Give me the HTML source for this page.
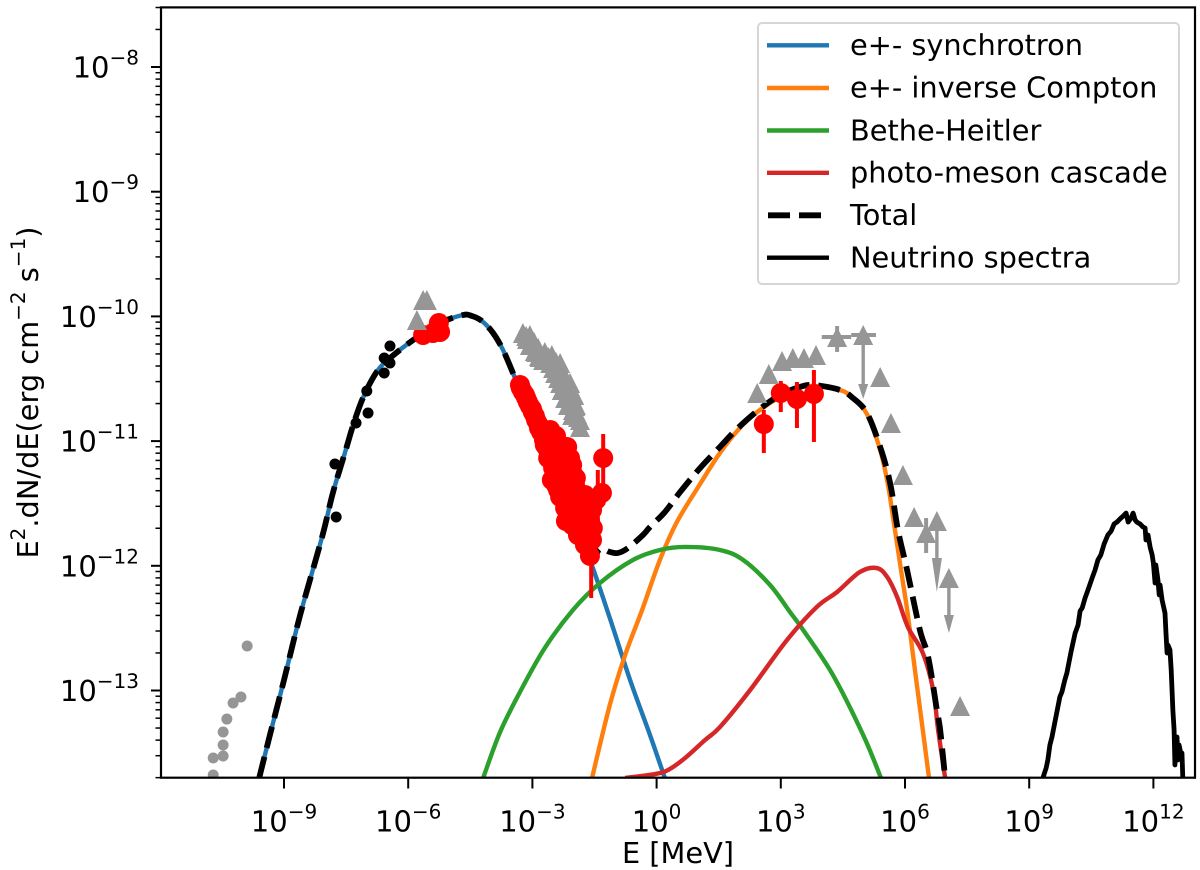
<!DOCTYPE html>
<html lang="en">
<head>
<meta charset="utf-8">
<title>Broadband spectrum</title>
<style>
html,body{margin:0;padding:0;background:#fff;width:1200px;height:870px;overflow:hidden}
svg{display:block}
text{font-family:"DejaVu Sans","Liberation Sans",sans-serif;fill:#000;text-rendering:geometricPrecision}
</style>
</head>
<body>
<svg id="chart" xmlns="http://www.w3.org/2000/svg" width="1200" height="870" viewBox="0 0 1200 870">
  <rect x="0" y="0" width="1200" height="870" fill="#fff"/>
  <defs><clipPath id="plot-clip"><rect x="161" y="7.4" width="1034" height="770.3"/></clipPath></defs>
  <g id="marks" clip-path="url(#plot-clip)"></g>
  <g id="ticks"></g>
  <rect x="161" y="7.4" width="1034" height="770.3" fill="none" stroke="#000" stroke-width="2.2"/>
  <text x="678" y="863" font-size="28.8" text-anchor="middle">E [MeV]</text>
  <text transform="translate(38,392.5) rotate(-90)" font-size="28.8" text-anchor="middle">E<tspan font-size="20" dy="-13">2</tspan><tspan dy="13">.dN/dE(erg cm</tspan><tspan font-size="20" dy="-13">−2</tspan><tspan dy="13"> s</tspan><tspan font-size="20" dy="-13">−1</tspan><tspan dy="13">)</tspan></text>
  <g>
    <rect x="758" y="23" width="421" height="261" rx="4" ry="4" fill="#fff" fill-opacity="0.8" stroke="#d6d6d6" stroke-width="2"/>
    <line x1="767" x2="829" y1="45.3" y2="45.3" stroke="#1f77b4" stroke-width="4.4"/>
    <text x="850" y="55" font-size="28.8">e+- synchrotron</text>
    <line x1="767" x2="829" y1="88" y2="88" stroke="#ff7f0e" stroke-width="4.4"/>
    <text x="850" y="97.7" font-size="28.8">e+- inverse Compton</text>
    <line x1="767" x2="829" y1="130.5" y2="130.5" stroke="#2ca02c" stroke-width="4.4"/>
    <text x="850" y="140.7" font-size="28.8">Bethe-Heitler</text>
    <line x1="767" x2="829" y1="172.8" y2="172.8" stroke="#d62728" stroke-width="4.4"/>
    <text x="850" y="182.7" font-size="28.8">photo-meson cascade</text>
    <line x1="768" x2="829" y1="215.3" y2="215.3" stroke="#000" stroke-width="5.8" stroke-dasharray="22 9"/>
    <text x="850" y="225" font-size="28.8">Total</text>
    <line x1="767" x2="829" y1="257.7" y2="257.7" stroke="#000" stroke-width="4.4"/>
    <text x="850" y="267.7" font-size="28.8">Neutrino spectra</text>
  </g>
</svg>
<script>
// All values are log10(E / MeV) and log10(E^2 dN/dE / erg cm-2 s-1)
const xTickExps = [-9,-6,-3,0,3,6,9,12];
const yTickExps = [-8,-9,-10,-11,-12,-13];

const synchE = [-9.60,-9.34,-9.00,-8.61,-8.08,-7.82,-7.53,-7.29,-7.04,-6.73,-6.44,-5.88,-5.23,-4.68,-4.46,-4.22,-3.95,-3.71,-3.47,-3.18,-2.82,-2.33,-1.97,-1.61,-1.13,-0.64,-0.16,0.20];
const synchF = [-13.702,-13.357,-12.916,-12.395,-11.769,-11.416,-11.095,-10.831,-10.614,-10.430,-10.334,-10.189,-10.053,-9.989,-9.997,-10.037,-10.133,-10.269,-10.454,-10.694,-10.991,-11.376,-11.673,-11.953,-12.419,-12.916,-13.357,-13.702];

const icE = [-1.56,-1.13,-0.76,-0.35,0.08,0.49,1.05,1.53,2.01,2.43,2.98,3.46,3.78,4.43,4.74,5.08,5.40,5.59,5.71,5.93,6.07,6.24,6.43,6.58];
const icF = [-13.702,-13.116,-12.715,-12.354,-11.953,-11.649,-11.344,-11.095,-10.895,-10.767,-10.646,-10.574,-10.558,-10.590,-10.654,-10.783,-11.071,-11.352,-11.609,-12.090,-12.395,-12.836,-13.317,-13.702];

const bhE = [-4.19,-3.78,-3.30,-2.70,-2.02,-1.37,-0.57,0.08,0.69,1.53,2.09,2.74,3.22,3.54,4.26,4.99,5.42];
const bhF = [-13.702,-13.333,-13.012,-12.659,-12.354,-12.138,-11.953,-11.873,-11.849,-11.873,-11.953,-12.154,-12.370,-12.515,-12.876,-13.357,-13.702];

const pmE = [-0.76,-0.04,0.28,0.69,1.17,1.53,2.26,3.15,3.87,4.36,4.91,5.32,5.57,5.81,6.07,6.43,6.68,6.80,6.97];
const pmF = [-13.702,-13.670,-13.637,-13.541,-13.397,-13.293,-12.996,-12.595,-12.330,-12.210,-12.050,-12.018,-12.090,-12.250,-12.491,-12.699,-12.996,-13.317,-13.702];

const totalE = [-9.60,-9.34,-9.00,-8.61,-8.08,-7.82,-7.53,-7.29,-7.04,-6.73,-6.44,-5.88,-5.23,-4.68,-4.46,-4.22,-3.95,-3.71,-3.47,-3.18,-2.82,-2.33,-1.97,-1.61,-1.37,-1.13,-0.93,-0.69,-0.33,-0.16,0.20,0.57,1.05,1.53,1.94,2.43,2.98,3.46,3.78,4.43,4.74,5.08,5.40,5.64,5.83,6.05,6.36,6.56,6.77,6.85,6.97];
const totalF = [-13.702,-13.357,-12.916,-12.395,-11.769,-11.416,-11.095,-10.831,-10.614,-10.430,-10.334,-10.189,-10.053,-9.989,-9.997,-10.037,-10.133,-10.269,-10.454,-10.694,-10.991,-11.376,-11.673,-11.953,-11.865,-11.889,-11.897,-11.857,-11.753,-11.689,-11.569,-11.408,-11.216,-11.047,-10.903,-10.759,-10.630,-10.566,-10.550,-10.590,-10.654,-10.775,-11.047,-11.336,-11.713,-12.034,-12.515,-12.731,-13.156,-13.317,-13.702];

const nuE = [9.33,9.41,9.45,9.50,9.55,9.65,9.74,9.79,9.86,9.91,10.01,10.11,10.18,10.23,10.28,10.35,10.42,10.52,10.59,10.66,10.73,10.81,10.90,10.98,11.05,11.12,11.19,11.27,11.34,11.39,11.46,11.51,11.56,11.60,11.68,11.75,11.80,11.82,11.87,11.92,11.97,12.00,12.04,12.06,12.11,12.14,12.16,12.21,12.28,12.30,12.33,12.35,12.40,12.43,12.45,12.47,12.50,12.52,12.55,12.57,12.59,12.62,12.67,12.69,12.71];
const nuF = [-13.702,-13.621,-13.557,-13.437,-13.373,-13.204,-13.052,-13.012,-12.916,-12.860,-12.691,-12.539,-12.475,-12.362,-12.338,-12.258,-12.194,-12.098,-12.034,-11.953,-11.913,-11.825,-11.753,-11.721,-11.665,-11.649,-11.625,-11.601,-11.577,-11.649,-11.617,-11.577,-11.633,-11.649,-11.665,-11.689,-11.697,-11.793,-11.753,-11.849,-11.913,-11.978,-12.138,-11.994,-12.114,-12.234,-12.154,-12.274,-12.379,-12.515,-12.699,-12.635,-12.675,-12.836,-12.996,-13.156,-13.317,-13.597,-13.373,-13.373,-13.557,-13.437,-13.517,-13.501,-13.702];

const blackE = [-6.44,-6.58,-6.44,-6.58,-7.00,-6.97,-7.26,-7.77,-7.74];
const blackF = [-10.237,-10.334,-10.374,-10.454,-10.598,-10.775,-10.855,-11.184,-11.609];

const greyDotE = [-9.89,-10.04,-10.23,-10.38,-10.47,-10.47,-10.47,-10.71,-10.71];
const greyDotF = [-12.643,-13.052,-13.100,-13.229,-13.333,-13.437,-13.525,-13.541,-13.678];

const redE = [-5.64,-5.40,-5.26,-5.23,-3.30,-3.23,-3.15,-3.06,-2.99,-2.91,-2.84,-2.70,-2.62,-2.43,-2.70,-2.53,-2.33,-2.16,-2.09,-2.62,-2.50,-2.21,-2.04,-1.95,-2.53,-2.38,-2.09,-1.90,-2.21,-1.97,-1.73,-2.19,-1.61,-1.54,-1.73,-1.68,-1.61,-1.32,-1.29,2.59,3.00,3.39,3.80,
  -3.28,-3.18,-3.11,-3.01,-2.94,-2.86,-2.79,-2.72,-2.65,-2.57,-2.50,-2.38,-2.29,-2.45,-2.33,-2.16,-2.04,-2.38,-2.24,-2.09,-1.97,-2.43,-2.33,-2.16,-2.04,-1.90,-2.21,-2.09,-1.95,-1.80,-1.66,-2.04,-1.90,-1.75,-1.61,-1.90,-1.73,-1.56,-1.56,-1.46,-1.73];
const redF = [-10.149,-10.133,-10.053,-10.125,-10.550,-10.606,-10.654,-10.719,-10.767,-10.831,-10.895,-10.927,-10.975,-10.959,-11.031,-11.087,-11.031,-11.047,-11.136,-11.136,-11.216,-11.232,-11.248,-11.296,-11.312,-11.392,-11.392,-11.408,-11.472,-11.512,-11.512,-11.641,-11.633,-11.697,-11.753,-11.793,-11.921,-11.416,-11.136,-10.863,-10.614,-10.662,-10.622,
  -10.574,-10.630,-10.686,-10.743,-10.799,-10.863,-10.927,-10.991,-11.055,-10.911,-10.991,-11.071,-11.111,-11.151,-11.192,-11.151,-11.192,-11.272,-11.312,-11.312,-11.352,-11.352,-11.448,-11.432,-11.472,-11.472,-11.537,-11.569,-11.593,-11.593,-11.593,-11.673,-11.697,-11.697,-11.713,-11.753,-11.833,-11.793,-11.553,-11.472,-11.432];

const redBarE = [-1.29,-1.42,-1.58,-2.04,2.59,3.00,3.39,3.80];
const redBarHi = [-10.943,-11.232,-11.673,-11.633,-10.751,-10.518,-10.526,-10.430];
const redBarLo = [-11.512,-11.713,-12.258,-11.793,-11.095,-10.767,-10.895,-11.007];

const triE = [-5.64,-5.55,-5.79,-3.23,-3.13,-3.03,-2.94,-2.84,-2.74,-2.62,-2.53,-2.43,-2.33,-2.26,-2.19,-2.12,-2.04,-1.97,-1.92,-1.85,2.43,2.71,3.03,3.29,3.56,3.85,4.36,4.99,5.40,5.66,5.95,6.22,6.51,6.77,7.06,7.33,
  -3.15,-3.06,-2.96,-2.86,-2.82,-2.70,-2.60,-2.50,-2.43,-2.33,-2.33,-2.24,-2.16,-2.09,-2.09,-2.02,-1.99,-1.90,-1.95,-1.85,
  -2.70,-2.57,-2.45,-2.38,-2.29,-2.21,-2.14,-2.04,-3.06,-2.91];
const triF = [-9.868,-9.868,-10.029,-10.133,-10.181,-10.221,-10.277,-10.318,-10.350,-10.326,-10.310,-10.390,-10.446,-10.510,-10.558,-10.606,-10.654,-10.719,-10.783,-10.887,-10.614,-10.462,-10.358,-10.334,-10.334,-10.310,-10.165,-10.149,-10.486,-10.855,-11.272,-11.609,-11.737,-11.641,-12.098,-13.124,
  -10.157,-10.149,-10.205,-10.253,-10.326,-10.285,-10.334,-10.414,-10.366,-10.374,-10.534,-10.470,-10.574,-10.534,-10.646,-10.751,-10.630,-10.807,-10.711,-10.831,
  -10.350,-10.374,-10.454,-10.494,-10.590,-10.654,-10.711,-10.791,-10.229,-10.285];

const greyXbarF = [-10.165,-10.149];
const greyXbarLo = [3.99,4.70];
const greyXbarHi = [4.70,5.30];

const greyYbarE = [4.36,6.51];
const greyYbarHi = [-10.077,-11.617];
const greyYbarLo = [-10.285,-11.897];

const limitE = [4.99,6.77,7.06];
const limitF = [-10.149,-11.641,-12.098];
const limitHeadF = [-10.542,-11.937,-12.395];
const limitTipF = [-10.662,-12.210,-12.539];

const SVGNS = 'http://www.w3.org/2000/svg';
const GREY = '#969696';
const RED = '#ff0000';
function xScale(v){ return 284 + (v + 9) * 41.4; }
function yScale(v){ return 67 + (-8 - v) * 124.7; }
function mk(parent, tag, attrs){
  const el = document.createElementNS(SVGNS, tag);
  for (const k in attrs) el.setAttribute(k, attrs[k]);
  parent.appendChild(el);
  return el;
}
function pts(xs, ys){
  return xs.map(function(v, i){ return xScale(v).toFixed(2) + ',' + yScale(ys[i]).toFixed(2); }).join(' ');
}
function smooth(xs, ys){
  const px = xs.map(xScale), py = ys.map(yScale);
  let d = 'M' + px[0].toFixed(2) + ' ' + py[0].toFixed(2);
  for (let i = 0; i < px.length - 1; i++) {
    const a = Math.max(i - 1, 0), b = Math.min(i + 2, px.length - 1);
    const c1x = px[i] + (px[i + 1] - px[a]) / 6, c1y = py[i] + (py[i + 1] - py[a]) / 6;
    const c2x = px[i + 1] - (px[b] - px[i]) / 6, c2y = py[i + 1] - (py[b] - py[i]) / 6;
    d += 'C' + c1x.toFixed(2) + ' ' + c1y.toFixed(2) + ' ' + c2x.toFixed(2) + ' ' + c2y.toFixed(2) + ' ' + px[i + 1].toFixed(2) + ' ' + py[i + 1].toFixed(2);
  }
  return d;
}
const marks = document.getElementById('marks');
const ticks = document.getElementById('ticks');

let el;
el = mk(marks, 'path', {d: smooth(synchE, synchF), fill: 'none', stroke: '#1f77b4', 'stroke-width': 4.4});


el = mk(marks, 'path', {d: smooth(icE, icF), fill: 'none', stroke: '#ff7f0e', 'stroke-width': 4.4});


el = mk(marks, 'path', {d: smooth(bhE, bhF), fill: 'none', stroke: '#2ca02c', 'stroke-width': 4.4});


el = mk(marks, 'path', {d: smooth(pmE, pmF), fill: 'none', stroke: '#d62728', 'stroke-width': 4.4});


el = mk(marks, 'path', {d: smooth(totalE, totalF), fill: 'none', stroke: '#000', 'stroke-width': 5.8, 'stroke-dasharray': '22 9'});


el = mk(marks, 'polyline', {points: pts(nuE, nuF), fill: 'none', stroke: '#000', 'stroke-width': 4.8, 'stroke-linejoin': 'round'});



redBarE.forEach(function(v, i){
  const bar = mk(marks, 'line', {x1: xScale(v), x2: xScale(v), y1: yScale(redBarHi[i]), y2: yScale(redBarLo[i]), stroke: RED, 'stroke-width': 4});
  
  
});
redE.forEach(function(v, i){
  const c = mk(marks, 'circle', {cx: xScale(v), cy: yScale(redF[i]), r: 10, fill: RED});
  
  
});
blackE.forEach(function(v, i){
  const c = mk(marks, 'circle', {cx: xScale(v), cy: yScale(blackF[i]), r: 5.5, fill: '#000'});
  
  
});
greyDotE.forEach(function(v, i){
  const c = mk(marks, 'circle', {cx: xScale(v), cy: yScale(greyDotF[i]), r: 5.5, fill: GREY});
  
  
});
greyXbarF.forEach(function(v, i){
  const bar = mk(marks, 'line', {x1: xScale(greyXbarLo[i]), x2: xScale(greyXbarHi[i]), y1: yScale(v), y2: yScale(v), stroke: GREY, 'stroke-width': 4});
  
  
});
greyYbarE.forEach(function(v, i){
  const bar = mk(marks, 'line', {x1: xScale(v), x2: xScale(v), y1: yScale(greyYbarHi[i]), y2: yScale(greyYbarLo[i]), stroke: GREY, 'stroke-width': 4});
  
  
});
limitE.forEach(function(v, i){
  const x = xScale(v);
  const stem = mk(marks, 'line', {x1: x, x2: x, y1: yScale(limitF[i]), y2: yScale(limitHeadF[i]), stroke: GREY, 'stroke-width': 3.4});
  
  
  const head = mk(marks, 'polygon', {points: (x - 5) + ',' + yScale(limitHeadF[i]) + ' ' + (x + 5) + ',' + yScale(limitHeadF[i]) + ' ' + x + ',' + yScale(limitTipF[i]), fill: GREY});
  
  
});
triE.forEach(function(v, i){
  const x = xScale(v), y = yScale(triF[i]);
  const t = mk(marks, 'polygon', {points: (x - 10) + ',' + (y + 10) + ' ' + (x + 10) + ',' + (y + 10) + ' ' + x + ',' + (y - 10), fill: GREY});
  
  
});

function tickLabel(x, y, exp, anchor){
  const t = mk(ticks, 'text', {x: x, y: y, 'font-size': 29, 'text-anchor': anchor});
  t.appendChild(document.createTextNode('10'));
  const s = mk(t, 'tspan', {'font-size': 20, dy: -13});
  s.textContent = String(exp).replace('-', '\u2212');
  return t;
}
xTickExps.forEach(function(exp){
  const x = xScale(exp);
  const l = mk(ticks, 'line', {x1: x, x2: x, y1: 777.7, y2: 788.5, stroke: '#000', 'stroke-width': 2});
  
  
  const t = tickLabel(x, 831.5, exp, 'middle');
  
  
});
yTickExps.forEach(function(exp){
  const y = yScale(exp);
  const l = mk(ticks, 'line', {x1: 151, x2: 161, y1: y, y2: y, stroke: '#000', 'stroke-width': 2});
  
  
  const t = tickLabel(139, y + 10.5, exp, 'end');
  
  
});
for (let d = -14; d <= -8; d++) {
  for (let m = 2; m <= 9; m++) {
    const y = yScale(d + Math.log10(m));
    if (y < 7 || y > 778.2) continue;
    const l = mk(ticks, 'line', {x1: 155.5, x2: 161, y1: y, y2: y, stroke: '#000', 'stroke-width': 1.5});
    
    
  }
}
</script>
</body>
</html>
